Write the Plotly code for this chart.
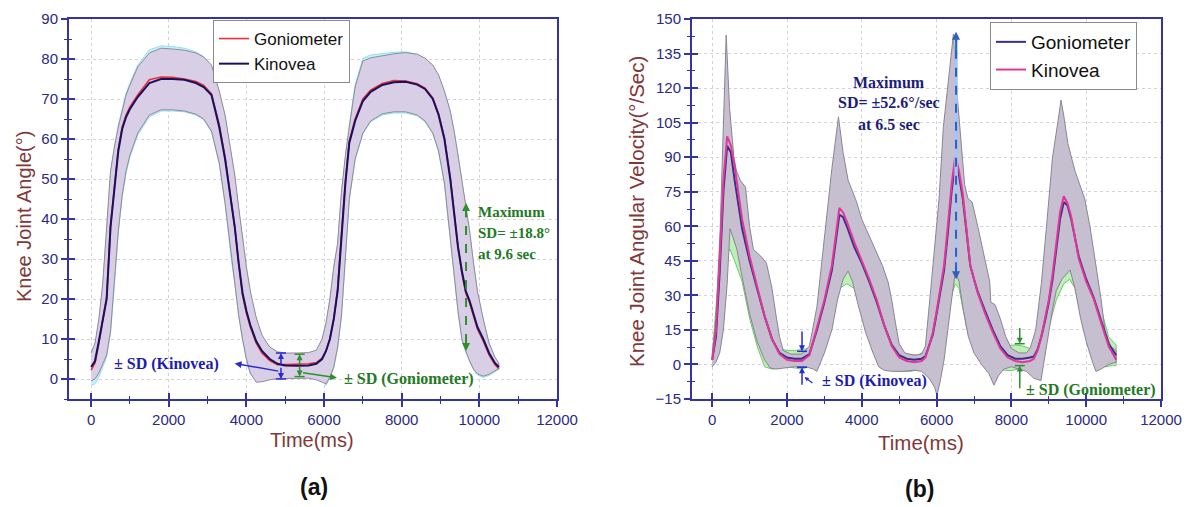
import plotly.graph_objects as go

# ---------------- (a) Knee joint angle data ----------------
t_a = [0, 100, 200, 300, 400, 500, 600, 700, 800, 900, 1000, 1200, 1500, 1800, 2100, 2400, 2700, 2900, 3100, 3300,
       3450, 3600, 3700, 3800, 3900, 4000, 4100, 4250, 4400, 4600, 4800, 5000, 5300, 5600, 5800, 5950, 6050, 6150, 6250, 6350,
       6450, 6550, 6650, 6800, 7000, 7200, 7500, 7800, 8100, 8400, 8600, 8800, 8950, 9100, 9250, 9350, 9450, 9550, 9650, 9750,
       9850, 9950, 10100, 10250, 10400, 10500]
kin_a = [3, 4.5, 9.5, 15, 20, 38, 48, 57, 62.5, 65.5, 67.5, 70.5, 74, 75, 75, 74.8, 74, 73, 71, 63,
         55, 44.5, 38, 29, 21.5, 17, 13.5, 9.5, 7, 5, 3.8, 3.4, 3.3, 3.4, 3.8, 5, 7, 10, 15, 22,
         36, 49, 59, 64.5, 69.5, 71.8, 73.5, 74.2, 74.3, 73.6, 72.5, 70, 66, 60, 50, 42, 33, 27, 22, 19.5,
         16, 13, 10, 6.5, 4, 3]
gon_a = [2.2, 4, 9, 14.5, 20.5, 38.5, 48.5, 57.5, 63, 66, 68, 71, 74.8, 75.5, 75.4, 75, 74.4, 73.4, 71.3, 63.5,
         55.5, 45, 38, 29, 21, 16.5, 13, 9, 6.5, 4.6, 3.6, 3.6, 3.7, 3.8, 4.1, 5.2, 7, 10, 15, 22.5,
         36.5, 49.5, 59.5, 65, 70, 72.2, 73.9, 74.6, 74.5, 73.8, 72.7, 70.3, 66.3, 60.3, 50.5, 42, 33, 26.5, 21.5, 19,
         15.5, 12.5, 9.5, 6, 3.6, 2.6]
kin_up_a = [6.5, 9, 15, 24, 38, 52, 58, 63, 67, 71, 73.5, 78, 81.5, 82.7, 82.5, 82.2, 81.5, 80.5, 78.5, 72,
            66, 57, 51, 43, 35, 28, 22, 15.5, 11, 8, 6.8, 6.5, 6.5, 6.6, 7.2, 10, 14, 20, 28, 34,
            47, 56, 63, 73, 79.5, 80.3, 80.8, 81.3, 81.6, 81.2, 80.2, 78.5, 76, 72, 67, 62, 56, 50, 44, 37,
            29, 22, 15, 9, 5.5, 4]
kin_lo_a = [-0.5, 0, 1.5, 3.5, 6, 12, 24, 37, 46, 52, 56, 61.5, 66, 67.3, 67.3, 67, 66.2, 65, 62, 54,
            44, 31, 24, 16, 10, 5, 1.5, -0.8, -0.7, -0.2, 0.1, 0.2, 0.2, 0.2, -0.2, -0.8, -1.2, 0.5, 3, 8,
            16, 30, 45, 55, 61.5, 64.5, 66.3, 66.8, 66.8, 66, 64.5, 61.5, 57, 49, 36, 26, 17, 10, 7, 4.5,
            2.5, 1.3, 0.7, 1.2, 2, 2.6]
gon_up_a = [5.5, 8.5, 14.5, 23.5, 37.5, 51.5, 58, 63.5, 67.5, 71.5, 74, 78.5, 82.3, 83.3, 83.1, 82.7, 81.8, 80.6, 78.3, 71.5,
            65.5, 56.5, 50.5, 42.5, 34.5, 27.5, 21.5, 15, 10.5, 7.8, 6.6, 6.3, 6.2, 6.3, 7, 9.8, 13.8, 19.8, 27.8, 33.8,
            46.8, 55.8, 63.5, 73.5, 80.2, 81, 81.4, 81.7, 81.8, 81.2, 80.1, 78.3, 75.8, 71.8, 66.8, 61.8, 55.8, 49.8, 43.8, 36.8,
            28.8, 21.8, 14.8, 8.8, 5.3, 3.8]
gon_lo_a = [-1.6, -1.2, 0.5, 3, 5.5, 11.5, 23.5, 36.5, 45.5, 51.5, 55.5, 61, 65.5, 67, 67, 66.8, 66, 64.8, 61.8, 53.8,
            43.8, 30.8, 23.8, 15.8, 9.8, 4.8, 1.2, -0.5, -0.2, 0.4, 0.8, 0.9, 0.9, 0.9, 0.6, -0.2, -1.6, 0.3, 2.8, 7.8,
            15.8, 29.8, 44.8, 54.8, 61.3, 64.3, 66, 66.5, 66.5, 65.8, 64.3, 61.3, 56.8, 48.8, 35.8, 25.8, 16.8, 9.8, 6.8, 4.3,
            2.3, 1.0, 0.4, 0.9, 1.8, 2.4]

# ---------------- (b) Knee joint angular velocity data ----------------
t_b = [0, 100, 200, 300, 400, 500, 600, 700, 800, 900, 1000, 1200, 1400, 1600, 1800, 2000, 2200, 2400, 2600, 2800,
       3000, 3200, 3300, 3400, 3500, 3600, 3800, 4000, 4200, 4400, 4600, 4800, 5000, 5200, 5400, 5600, 5700, 5800, 5900, 6000,
       6100, 6200, 6300, 6400, 6500, 6600, 6700, 6800, 6900, 7000, 7100, 7300, 7500, 7700, 7900, 8100, 8300, 8500, 8600, 8700,
       8800, 8900, 9000, 9100, 9200, 9300, 9400, 9500, 9600, 9700, 9800, 10000, 10200, 10400, 10600, 10800]
kin_b = [2, 15, 45, 80, 99, 95, 86, 74, 63, 55, 47, 34, 21, 11, 4.5, 2, 1.5, 1.5, 4, 16,
         28, 43, 56, 68, 66, 62, 53, 45, 37, 28, 17, 8, 3, 1.5, 1, 1.5, 3, 8, 14, 23,
         33, 43, 60, 78, 90.5, 84, 74, 58, 43, 37, 31, 22, 14, 7, 3, 1.5, 1, 1.5, 2.5, 6,
         12, 20, 28, 39, 52, 66, 73, 70, 64, 55, 46, 36, 28.5, 18, 8, 2]
gon_b = [2, 12, 40, 75, 95, 92, 80, 69, 59, 52, 45, 33, 21, 11, 5, 3, 2.5, 2.5, 4.5, 15,
         27, 41, 53, 65, 64, 60, 51, 44, 36, 27, 17, 8.5, 4, 2.5, 2, 2.5, 3.5, 8, 13, 22,
         31, 41, 57, 75, 88, 82, 72, 57, 43, 37, 31.5, 23, 15, 8, 4, 2.5, 2.5, 3, 3.5, 6.5,
         12, 19, 27, 37, 50, 63, 70.5, 69, 63, 55, 47, 37, 29, 19, 9, 4]
t_sd_up_b = [0, 100, 214, 300, 374, 462, 580, 650, 750, 890, 1000, 1100, 1300, 1450, 1600, 1700, 1800, 1900, 2100, 2400,
             2600, 2800, 3000, 3200, 3376, 3500, 3634, 3858, 4000, 4200, 4400, 4550, 4700, 4800, 4900, 5000, 5150, 5400, 5600, 5700,
             5800, 5950, 6066, 6180, 6270, 6450, 6555, 6628, 6700, 6750, 6840, 6950, 7100, 7300, 7420, 7450, 7560, 7700, 7850, 8000,
             8200, 8400, 8500, 8650, 8800, 8950, 9100, 9250, 9327, 9400, 9510, 9700, 9960, 10100, 10250, 10400, 10500, 10650, 10800]
sd_up_b = [4, 20, 59, 100, 143, 112, 90, 84, 80, 77, 60, 50, 47, 44, 33, 22, 12, 6, 4.5, 4.5,
           8, 25, 55, 85, 107.5, 92, 80, 70.7, 63, 56, 49, 43, 36, 28, 18, 9, 5, 4, 4.5, 8,
           25, 50, 72, 103, 116, 143.5, 116, 103, 90, 78, 72, 70.5, 60, 45, 36, 27, 26, 20, 12, 7,
           5, 5, 7, 15, 35, 62, 90, 106, 114.8, 108, 96, 84, 72, 60, 45, 28, 15, 8, 6]
t_sd_lo_b = [0, 100, 200, 300, 400, 475, 560, 660, 800, 1000, 1200, 1400, 1550, 1700, 1900, 2200, 2500, 2700, 2800, 2900,
             3000, 3200, 3350, 3500, 3634, 3750, 3900, 4100, 4300, 4450, 4600, 4800, 5100, 5400, 5600, 5800, 5950, 6010, 6100, 6200,
             6300, 6400, 6500, 6600, 6700, 6850, 7000, 7200, 7400, 7533, 7650, 7800, 8000, 8200, 8400, 8600, 8790, 8900, 9000, 9100,
             9200, 9350, 9570, 9700, 9850, 10000, 10150, 10260, 10400, 10600, 10800]
sd_lo_b = [-1, 1, 5, 15, 35, 59, 55, 50, 38, 22, 10, 2, -1.5, -2, -1.5, -1, -1, -2, -3, 1,
           5, 15, 28, 37, 40.6, 36, 26, 14, 5, -1, -2.5, -3, -3, -2.5, -3, -6, -10, -13.5, -7, 2,
           14, 28, 40, 36, 25, 12, 5, 0, -4, -9, -5, -2, -1, -2, -3, -6, -7, 2, 14, 24,
           32, 37, 41, 33, 20, 10, 2, -3, -2, 0, 1]
t_gsd_up_b = [0, 200, 400, 600, 800, 1000, 1200, 1400, 1600, 1800, 2000, 2200, 2400, 2600, 2800, 3000, 3200, 3400, 3600, 3800,
              4000, 4200, 4400, 4600, 4800, 5000, 5200, 5500, 5700, 5900, 6100, 6300, 6500, 6700, 6900, 7100, 7300, 7500, 7700, 7900,
              8100, 8300, 8500, 8700, 8900, 9100, 9300, 9500, 9700, 10000, 10200, 10400, 10600, 10800]
gsd_up_b = [4, 45, 100, 84, 64, 50, 37, 25, 14, 7, 6, 6, 6.5, 7, 19, 31, 46, 70, 65, 56,
            48, 40, 31, 21, 12, 6, 4.5, 4, 6, 17, 35, 62, 92, 78, 48, 36, 27, 19, 12, 8,
            8.5, 8, 7, 10, 24, 42, 68, 74, 60, 42, 34, 24, 12, 8.5]
t_gsd_lo_b = [0, 200, 400, 475, 600, 800, 1000, 1200, 1400, 1600, 1800, 2000, 2200, 2400, 2600, 2800, 3000, 3200, 3400, 3600,
              3800, 4000, 4200, 4400, 4600, 4800, 5000, 5300, 5600, 5800, 6000, 6200, 6400, 6500, 6600, 6800, 7000, 7200, 7400, 7600,
              7800, 8000, 8200, 8400, 8600, 8800, 9000, 9200, 9400, 9560, 9700, 9900, 10100, 10300, 10500, 10700, 10800]
gsd_lo_b = [-1, 30, 48, 50, 45, 36, 20, 8, -1, -2, -1.5, -1, -1.5, -2, -1, 8, 18, 28, 33, 35,
            33, 24, 12, 4, -1, -2.5, -3, -3, -2, 0, 8, 18, 30, 35, 33, 16, 6, 2, 0, -1,
            -2.5, -2.7, -2, -1, 0, 8, 16, 28, 35, 37, 33, 18, 6, 0, -1, -0.5, -0.5]

x_ticks = [0, 2000, 4000, 6000, 8000, 10000, 12000]
x_tick_text = ["0", "2000", "4000", "6000", "8000", "10000", "12000"]
y_ticks_a = [0, 10, 20, 30, 40, 50, 60, 70, 80, 90]
y_ticks_b = [-15, 0, 15, 30, 45, 60, 75, 90, 105, 120, 135, 150]

# ---------------- layout helpers ----------------
W, H = 1191, 507
MT, MB = 19, 108
PH = H - MT - MB


def px(x):
    return x / W


def py(y):
    return (H - MB - y) / PH


SANS = "Liberation Sans, Arial, sans-serif"
SERIF = "Liberation Serif, Times New Roman, serif"
AX = "#3434a0"
TICKFONT = dict(family=SANS, size=15, color="#2a2a82")
TITLE_C = "#803838"
BLUE_T = "#1c1cb0"
GREEN_T = "#237a23"


def poly(tu, u, tl, l):
    return list(tu) + list(tl)[::-1], list(u) + list(l)[::-1]


fig = go.Figure()


def add_band(tu, u, tl, l, fill, line, xa, ya):
    xs, ys = poly(tu, u, tl, l)
    fig.add_trace(go.Scatter(x=xs, y=ys, mode="lines", fill="toself", fillcolor=fill,
                             line=dict(color=line, width=1), showlegend=False, hoverinfo="skip",
                             xaxis=xa, yaxis=ya))


# (a)
add_band(t_a, gon_up_a, t_a, gon_lo_a, "#c6f2f7", "#92e2ec", "x", "y")
add_band(t_a, kin_up_a, t_a, kin_lo_a, "#d8cfe6", "#8e8a9c", "x", "y")
fig.add_trace(go.Scatter(x=t_a, y=gon_a, mode="lines", name="Goniometer", line=dict(color="#e8303a", width=1.6),
                         xaxis="x", yaxis="y", legend="legend"))
fig.add_trace(go.Scatter(x=t_a, y=kin_a, mode="lines", name="Kinovea", line=dict(color="#1a1060", width=2),
                         xaxis="x", yaxis="y", legend="legend"))
# (b)
add_band(t_gsd_up_b, gsd_up_b, t_gsd_lo_b, gsd_lo_b, "#bdf0b4", "#6cc86c", "x2", "y2")
add_band(t_sd_up_b, sd_up_b, t_sd_lo_b, sd_lo_b, "#c6bfcf", "#8a8494", "x2", "y2")
fig.add_trace(go.Scatter(x=t_b, y=gon_b, mode="lines", name="Goniometer", line=dict(color="#3c2d8a", width=2),
                         xaxis="x2", yaxis="y2", legend="legend2"))
fig.add_trace(go.Scatter(x=t_b, y=kin_b, mode="lines", name="Kinovea", line=dict(color="#e0389a", width=2),
                         xaxis="x2", yaxis="y2", legend="legend2"))

# dummy traces for the inner halves of crossing ticks
for xa, ya in [("x3", "y"), ("x", "y3"), ("x4", "y2"), ("x2", "y4")]:
    fig.add_trace(go.Scatter(x=[None], y=[None], mode="lines", showlegend=False, hoverinfo="skip",
                             xaxis=xa, yaxis=ya))


def axis(rng, tickvals, minor_dt, domain=None, ticktext=None, **kw):
    d = dict(range=rng, tickvals=tickvals, showline=True, linecolor=AX, linewidth=2, mirror=True,
             ticks="outside", ticklen=6, tickwidth=1.5, tickcolor=AX, zeroline=False, tickfont=TICKFONT,
             showgrid=True, gridcolor="#d2d2da", griddash="dot", gridwidth=1,
             minor=dict(dtick=minor_dt, tick0=0, ticks="outside", ticklen=3, tickwidth=1.2,
                        tickcolor=AX, showgrid=False))
    if ticktext is not None:
        d["ticktext"] = ticktext
    if domain is not None:
        d["domain"] = domain
    d.update(kw)
    return d


def inner(rng, tickvals, minor_dt, over, anchor, side):
    return dict(range=rng, tickvals=tickvals, overlaying=over, anchor=anchor, side=side,
                showline=False, showgrid=False, zeroline=False, showticklabels=False,
                ticks="inside", ticklen=6, tickwidth=1.5, tickcolor=AX,
                minor=dict(dtick=minor_dt, tick0=0, ticks="inside", ticklen=3, tickwidth=1.2,
                           tickcolor=AX, showgrid=False))


XR_A = [-570, 12000]
YR_A = [-5, 90]
XR_B = [-540, 12000]
YR_B = [-15, 150]

ann = []
shapes = []


def text(x, y, s, size, color, family=SANS, xref="paper", yref="paper", xanchor="center", angle=0, bold=False):
    if bold:
        s = "<b>" + s + "</b>"
    ann.append(dict(x=x, y=y, xref=xref, yref=yref, text=s, showarrow=False, xanchor=xanchor,
                    yanchor="middle", textangle=angle, font=dict(family=family, size=size, color=color)))


def arrow(xr, yr, x, y, ax_, ay_, color, width=1.5, size=0.9):
    ann.append(dict(xref=xr, yref=yr, axref=xr, ayref=yr, x=x, y=y, ax=ax_, ay=ay_, text="",
                    showarrow=True, arrowhead=2, arrowsize=size, arrowwidth=width, arrowcolor=color))


def seg(xr, yr, x0, y0, x1, y1, color, width=1.5, dash="solid"):
    shapes.append(dict(type="line", xref=xr, yref=yr, x0=x0, y0=y0, x1=x1, y1=y1,
                       line=dict(color=color, width=width, dash=dash)))


# axis titles and panel labels
text(px(24), py(217), "Knee Joint Angle(°)", 20, TITLE_C, angle=-90)
text(px(312), py(440), "Time(ms)", 20, TITLE_C)
text(px(636), py(212), "Knee Joint Angular Velocity(°/Sec)", 20.5, TITLE_C, angle=-90)
text(px(921), py(442), "Time(ms)", 20.5, TITLE_C)
text(px(314), py(487), "(a)", 23, "#111111", bold=True)
text(px(920), py(489), "(b)", 23, "#111111", bold=True)

# ---- (a) annotations ----
BL = "#2a2ad0"
GR = "#2f8f2f"
text(1931, 3.75, "± SD (Kinovea)", 16, BLUE_T, SERIF, "x", "y", bold=True)
arrow("x", "y", 3700, 3.9, 4860, 1.9, BL)
for yy in (0, 6.5):
    seg("x", "y", 4760, yy, 5020, yy, BL)
arrow("x", "y", 4890, 6.5, 4890, 3.2, BL, size=0.8)
arrow("x", "y", 4890, 0, 4890, 3.2, BL, size=0.8)
for yy in (0.6, 6.2):
    seg("x", "y", 5240, yy, 5500, yy, GR)
arrow("x", "y", 5370, 6.2, 5370, 3.4, GR, size=0.8)
arrow("x", "y", 5370, 0.6, 5370, 3.4, GR, size=0.8)
arrow("x", "y", 6330, 0.3, 5420, 1.6, GR)
text(8190, 0, "± SD (Goniometer)", 16, GREEN_T, SERIF, "x", "y", bold=True)
seg("x", "y", 9657, 9, 9657, 42, GR, 2, "dash")
arrow("x", "y", 9657, 44, 9657, 40, GR, 1.8)
arrow("x", "y", 9657, 7, 9657, 11, GR, 1.8)
text(9915, 41.75, "Maximum", 15, GREEN_T, SERIF, "x", "y", xanchor="left", bold=True)
text(9915, 36.5, "SD= ±18.8°", 15, GREEN_T, SERIF, "x", "y", xanchor="left", bold=True)
text(9915, 31.25, "at 9.6 sec", 15, GREEN_T, SERIF, "x", "y", xanchor="left", bold=True)

# ---- (b) annotations ----
NAVY_T = "#1c1c7a"
DB = "#2f5fbf"
text(4730, 122.4, "Maximum", 16, NAVY_T, SERIF, "x2", "y2", bold=True)
text(4730, 113.7, "SD= ±52.6°/sec", 16, NAVY_T, SERIF, "x2", "y2", bold=True)
text(4730, 104.2, "at 6.5 sec", 16, NAVY_T, SERIF, "x2", "y2", bold=True)
seg("x2", "y2", 6520, 39, 6520, 142, "#a8c6f0", 3.5)
seg("x2", "y2", 6520, 39, 6520, 142, DB, 2, "dash")
arrow("x2", "y2", 6520, 144.5, 6520, 136, DB, 1.8)
arrow("x2", "y2", 6520, 37, 6520, 45, DB, 1.8)

arrow("x2", "y2", 2402, 5.7, 2402, 15, BL, size=0.8)
for yy in (5.7, -1.2):
    seg("x2", "y2", 2270, yy, 2535, yy, BL)
arrow("x2", "y2", 2402, -1.2, 2402, -9.5, BL, size=0.8)
arrow("x2", "y2", 2470, -5.5, 2720, -8.5, BL, 1.2, 0.7)
text(4342, -7.3, "± SD (Kinovea)", 16, BLUE_T, SERIF, "x2", "y2", bold=True)

arrow("x2", "y2", 8224, 9, 8224, 16.5, GR, size=0.8)
for yy in (9, -0.5):
    seg("x2", "y2", 8090, yy, 8358, yy, GR)
arrow("x2", "y2", 8224, -0.5, 8224, -11, GR, size=0.8)
text(10130, -11, "± SD (Goniometer)", 16, GREEN_T, SERIF, "x2", "y2", bold=True)

legend_common = dict(bgcolor="white", bordercolor="#8a8a8a", borderwidth=1, xanchor="left", yanchor="top",
                     tracegroupgap=0)

fig.update_layout(
    width=W, height=H,
    margin=dict(l=0, r=0, t=MT, b=MB, autoexpand=False),
    paper_bgcolor="white", plot_bgcolor="white",
    showlegend=True,
    xaxis=axis(XR_A, x_ticks, 1000, [px(69), px(557)], ticktext=x_tick_text, anchor="y"),
    yaxis=axis(YR_A, y_ticks_a, 5, [0, 1], anchor="x"),
    xaxis2=axis(XR_B, x_ticks, 1000, [px(692), px(1161)], ticktext=x_tick_text, anchor="y2"),
    yaxis2=axis(YR_B, y_ticks_b, 7.5, [0, 1], anchor="x2"),
    xaxis3=inner(XR_A, x_ticks, 1000, "x", "y", "bottom"),
    yaxis3=inner(YR_A, y_ticks_a, 5, "y", "x", "left"),
    xaxis4=inner(XR_B, x_ticks, 1000, "x2", "y2", "bottom"),
    yaxis4=inner(YR_B, y_ticks_b, 7.5, "y2", "x2", "left"),
    legend=dict(x=px(213), y=py(20), font=dict(family=SANS, size=17, color="#111111"), **legend_common),
    legend2=dict(x=px(990), y=py(22), font=dict(family=SANS, size=19, color="#111111"), **legend_common),
    annotations=ann,
    shapes=shapes,
)

fig.write_html("out.html", config={"displayModeBar": False},
               post_script="document.body.style.margin='0px';document.body.style.overflow='hidden';")
